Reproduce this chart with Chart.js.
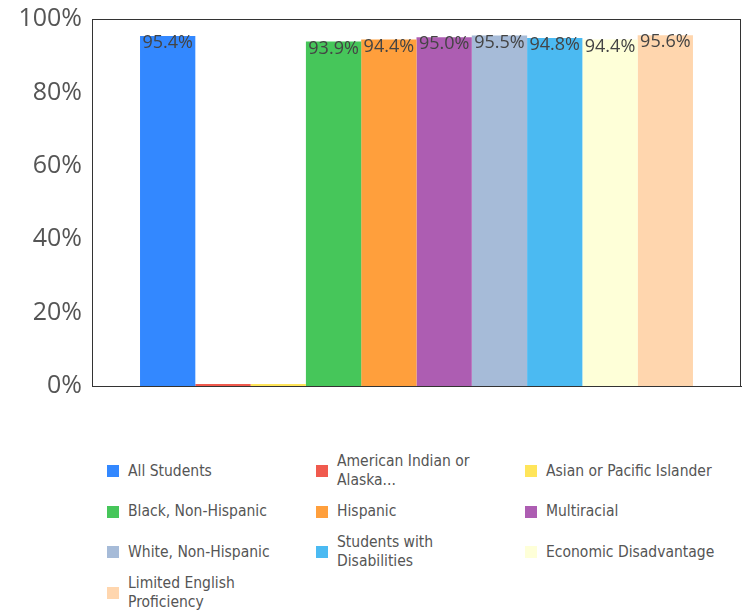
<!DOCTYPE html>
<html>
<head>
<meta charset="utf-8">
<script src="https://cdn.jsdelivr.net/npm/chart.js@4"></script>
<style>
  html, body { margin:0; padding:0; background:#fff; }
  #wrap { position:relative; width:749px; height:614px; }
  #chart { position:absolute; left:0; top:0; }
  #legend {
    position:absolute; left:107px; top:451px;
    display:grid; grid-template-columns:209px 209px 209px; grid-auto-rows:40.5px;
    font-family:"DejaVu Sans Condensed", "DejaVu Sans", sans-serif; font-size:15.5px; color:#555;
  }
  .item { display:flex; align-items:center; }
  .box { width:12px; height:12px; flex:none; margin-right:9px; }
  .txt { max-width:150px; line-height:19px; }
  .item:nth-child(3n) .txt { max-width:200px; }
</style>
</head>
<body>
<div id="wrap">
  <canvas id="chart" width="749" height="400"></canvas>
  <div id="legend"></div>
</div>
<script>
// data
const groups = ["All Students", "American Indian or Alaska...", "Asian or Pacific Islander",
  "Black, Non-Hispanic", "Hispanic", "Multiracial", "White, Non-Hispanic",
  "Students with Disabilities", "Economic Disadvantage", "Limited English Proficiency"];
const rates = [95.4, 0, 0, 93.9, 94.4, 95.0, 95.5, 94.8, 94.4, 95.6];
const colors = ["#3388ff", "#f05a4e", "#ffe55a", "#46c65a", "#ff9f3c", "#ad5db2",
  "#a6bbd8", "#4bbaf2", "#feffd8", "#ffd6ae"];
const yTicks = [0, 20, 40, 60, 80, 100];

// value labels on top of the bars
const barLabels = {
  id: "barLabels",
  afterDatasetsDraw(chart) {
    const ctx = chart.ctx;
    ctx.save();
    ctx.font = "18px 'Open Sans'";
    ctx.fillStyle = "#444";
    ctx.textAlign = "center";
    ctx.textBaseline = "top";
    chart.data.datasets.forEach((ds, i) => {
      const v = ds.data[0];
      if (!v) return;
      const bar = chart.getDatasetMeta(i).data[0];
      ctx.fillText(v.toFixed(1) + "%", bar.x, bar.y - 2);
    });
    ctx.restore();
  }
};

// box around the plot
const frame = {
  id: "frame",
  afterDraw(chart) {
    const a = chart.chartArea, ctx = chart.ctx;
    ctx.save();
    ctx.strokeStyle = "#333";
    ctx.lineWidth = 1;
    ctx.strokeRect(Math.round(a.left) + 0.5, Math.round(a.top) + 0.5,
      Math.round(a.right - a.left) - 1, Math.round(a.bottom - a.top));
    ctx.restore();
  }
};

const chart = new Chart(document.getElementById("chart"), {
  type: "bar",
  data: {
    labels: [""],
    datasets: groups.map((g, i) => ({
      label: g, data: [rates[i]], backgroundColor: colors[i],
      borderWidth: 0, minBarLength: 2
    }))
  },
  options: {
    responsive: false,
    animation: false,
    categoryPercentage: 0.852,
    barPercentage: 1,
    layout: { padding: { top: 19, right: 8, left: 0, bottom: 0 } },
    plugins: { legend: { display: false }, tooltip: { enabled: false } },
    scales: {
      x: {
        grid: { display: false, drawTicks: false },
        ticks: { display: false },
        border: { color: "#333" },
        afterFit: s => { s.height = 14; }
      },
      y: {
        min: 0, max: 100,
        afterBuildTicks: s => { s.ticks = yTicks.map(v => ({ value: v })); },
        grid: { display: false, drawTicks: false },
        border: { color: "#333" },
        ticks: {
          padding: 10, color: "#555",
          font: { family: "'Open Sans'", size: 25 },
          callback: v => v + "%"
        },
        afterFit: s => { s.width = 92; s.paddingTop = 0; s.paddingBottom = 0; }
      }
    }
  },
  plugins: [barLabels, frame]
});

// html legend
const legend = document.getElementById("legend");
groups.forEach((g, i) => {
  const item = document.createElement("div");
  item.className = "item";
  item.innerHTML = '<span class="box" style="background:' + colors[i] + '"></span><span class="txt">' + g + '</span>';
  legend.appendChild(item);
});
</script>
</body>
</html>
